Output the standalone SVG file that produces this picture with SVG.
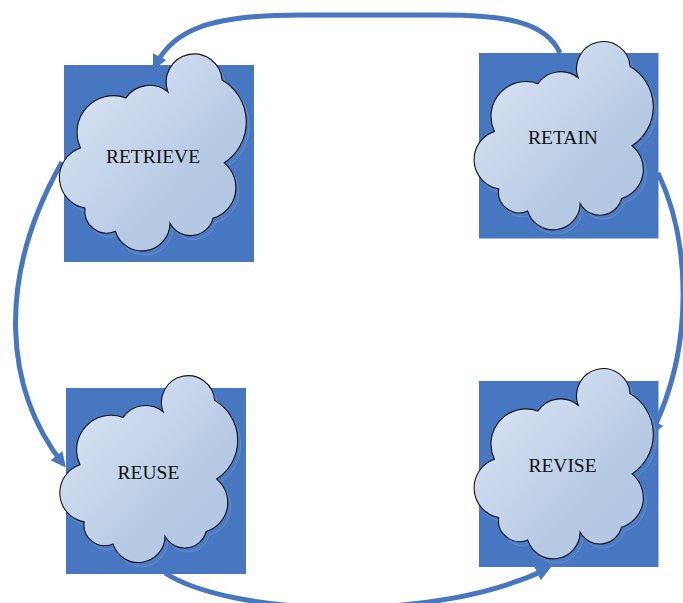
<svg xmlns="http://www.w3.org/2000/svg" xmlns:xlink="http://www.w3.org/1999/xlink" width="683" height="603" viewBox="0 0 683 603">
<defs>
<style>
.box{fill:#4777c1;}
.cloud{fill:url(#cg);stroke:#111;stroke-width:0.6;}
.shadow{fill:#4c7cc5;stroke:#6690cf;stroke-width:0.5;}
.lbl{font-family:"Liberation Serif","Times New Roman",serif;font-size:19.5px;fill:#111;text-anchor:middle;}
.conn{fill:none;stroke:#4777c1;stroke-width:5;}
</style>
<linearGradient id="cg" x1="0" y1="0" x2="1" y2="1">
<stop offset="0" stop-color="#e0e9f6"/>
<stop offset="0.65" stop-color="#b7cae4"/>
<stop offset="1" stop-color="#b2c5e2"/>
</linearGradient>
<path id="cloudShape" d="M 58.2,15.6 A 15 15 0 1 1 87.2,9.2 A 26 26 0 0 1 88.3,53.5 A 17 17 0 0 1 82.4,83 A 12.5 12.5 0 0 1 59.3,85.7 A 15 15 0 0 1 30,90 A 11.7 11.7 0 0 1 13.8,77.6 A 16.6 16.6 0 0 1 11.4,45.5 A 19.5 19.5 0 0 1 35.7,18.8 A 15.4 15.4 0 0 1 58.2,15.6 Z"/>
<marker id="arr" viewBox="0 0 10 10" refX="7" refY="5" markerWidth="15" markerHeight="15" markerUnits="userSpaceOnUse" orient="auto">
<path d="M0,0 L10,5 L0,10 z" fill="#4777c1"/>
</marker>
</defs>

<g id="connectors">
<path class="conn" marker-end="url(#arr)" d="M 560,53 C 545,20 500,15 440,15 L 300,15 C 205,15 172,32 155,66"/>
<path class="conn" marker-end="url(#arr)" d="M 658,173 C 690,240 695,345 652,432"/>
<path class="conn" marker-end="url(#arr)" d="M 62,162 C -5,280 5,390 63,464"/>
<path class="conn" marker-end="url(#arr)" d="M 165,573 C 230,615 430,625 547,569"/>
</g>

<g id="retrieve">
<rect class="box" x="64" y="65" width="190" height="197"/>
<use xlink:href="#cloudShape" class="shadow" transform="translate(62.3,66.7) scale(1.867,1.873)"/>
<use xlink:href="#cloudShape" class="cloud" transform="translate(59.3,62.7) scale(1.867,1.873)"/>
<text class="lbl" x="153" y="162.5">RETRIEVE</text>
</g>

<g id="retain">
<rect class="box" x="479" y="53" width="179.5" height="185.5"/>
<use xlink:href="#cloudShape" class="shadow" transform="translate(477,54) scale(1.79,1.79)"/>
<use xlink:href="#cloudShape" class="cloud" transform="translate(474,50) scale(1.79,1.79)"/>
<text class="lbl" x="563" y="143.5">RETAIN</text>
</g>

<g id="reuse">
<rect class="box" x="66" y="388" width="180" height="186"/>
<use xlink:href="#cloudShape" class="shadow" transform="translate(62.7,388) scale(1.777,1.777)"/>
<use xlink:href="#cloudShape" class="cloud" transform="translate(59.7,384) scale(1.777,1.777)"/>
<text class="lbl" x="148.5" y="479">REUSE</text>
</g>

<g id="revise">
<rect class="box" x="479" y="381" width="179.5" height="186"/>
<use xlink:href="#cloudShape" class="shadow" transform="translate(477,381) scale(1.79,1.81)"/>
<use xlink:href="#cloudShape" class="cloud" transform="translate(474,377) scale(1.79,1.81)"/>
<text class="lbl" x="562.5" y="472">REVISE</text>
</g>
</svg>
